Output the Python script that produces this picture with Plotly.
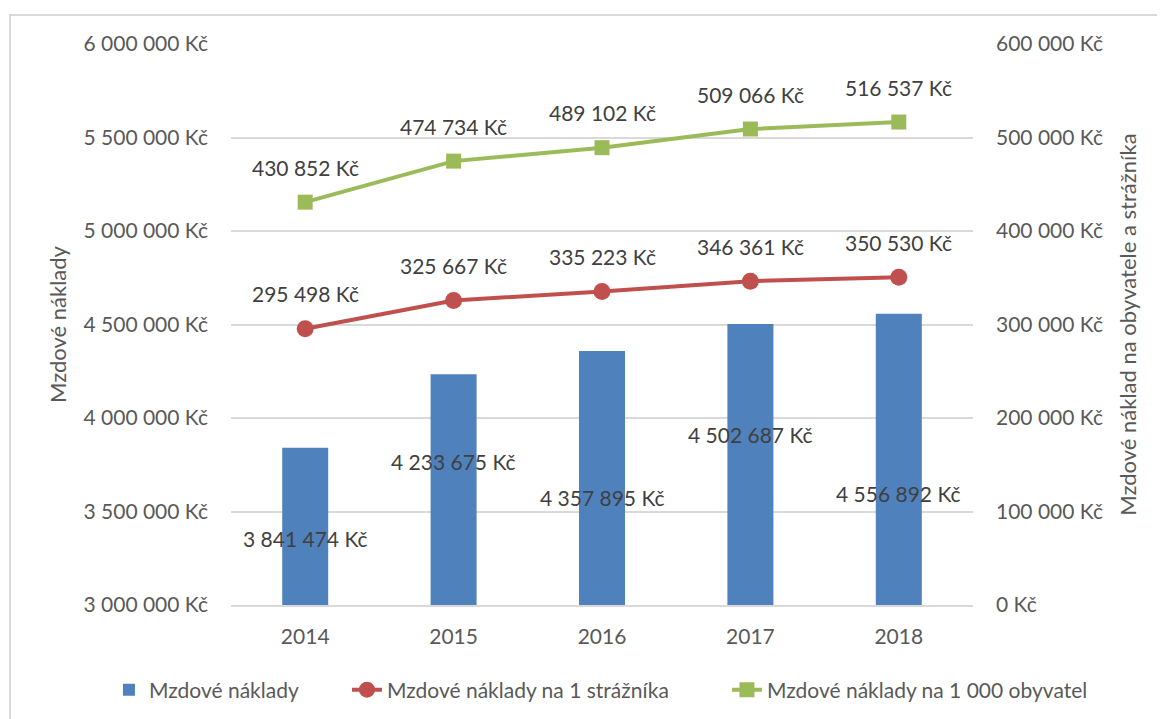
import plotly.graph_objects as go

years = [2014, 2015, 2016, 2017, 2018]
naklady = [3841474, 4233675, 4357895, 4502687, 4556892]
na_straznika = [295498, 325667, 335223, 346361, 350530]
na_1000_obyv = [430852, 474734, 489102, 509066, 516537]

left_ticks = [3000000, 3500000, 4000000, 4500000, 5000000, 5500000, 6000000]
right_ticks = [0, 100000, 200000, 300000, 400000, 500000, 600000]

def kc(v):
    return f"{v:,}".replace(",", " ") + " Kč"

FONT = "Lato"
FS = 21
BLUE = "#4F81BD"
RED = "#C0504D"
GREEN = "#9BBB59"
GRID = "#D9D9D9"
TICK = "#595959"
LABEL = "#404040"

fig = go.Figure()
fig.add_trace(go.Bar(x=years, y=naklady, name="Mzdové náklady",
                     marker=dict(color=BLUE, line=dict(width=0)), width=0.31,
                     yaxis="y", legend="legend"))
fig.add_trace(go.Scatter(x=years, y=na_straznika, name="Mzdové náklady na 1 strážníka",
                         mode="lines+markers", yaxis="y2", legend="legend2",
                         line=dict(color=RED, width=4),
                         marker=dict(symbol="circle", size=17, color=RED)))
fig.add_trace(go.Scatter(x=years, y=na_1000_obyv, name="Mzdové náklady na 1 000 obyvatel",
                         mode="lines+markers", yaxis="y2", legend="legend3",
                         line=dict(color=GREEN, width=4),
                         marker=dict(symbol="square", size=15, color=GREEN)))

annotations = []
bar_shift = [-91, -87, -146, -110, -180]
for yr, v, s in zip(years, naklady, bar_shift):
    annotations.append(dict(x=yr, y=v, xref="x", yref="y", text=kc(v), showarrow=False,
                            yshift=s, font=dict(family=FONT, size=FS, color=LABEL)))
for series in (na_straznika, na_1000_obyv):
    for yr, v in zip(years, series):
        annotations.append(dict(x=yr, y=v, xref="x", yref="y2", text=kc(v), showarrow=False,
                                yshift=35, font=dict(family=FONT, size=FS, color=LABEL)))

def leg(x):
    return dict(orientation="h", x=x, xanchor="left", y=-0.1515, yanchor="middle",
                font=dict(family=FONT, size=FS, color=TICK), bgcolor="rgba(0,0,0,0)")

fig.update_layout(
    width=1165, height=719,
    margin=dict(l=223, r=200, t=36, b=122, autoexpand=False),
    paper_bgcolor="white", plot_bgcolor="white",
    font=dict(family=FONT, size=FS, color=TICK),
    showlegend=True,
    legend=leg(-0.1645), legend2=leg(0.1563), legend3=leg(0.6684),
    xaxis=dict(range=[2013.5, 2018.5], tickvals=years, ticktext=[str(y) for y in years],
               showgrid=False, showline=True, linecolor=GRID, linewidth=2, zeroline=False,
               ticks="", tickfont=dict(size=FS, color=TICK), ticklabelstandoff=12,
               automargin=False),
    yaxis=dict(range=[3000000, 6000000], tickvals=left_ticks, ticktext=[kc(v) for v in left_ticks],
               showgrid=True, gridcolor=GRID, gridwidth=2, zeroline=False, showline=False,
               tickfont=dict(size=FS, color=TICK), ticklabelstandoff=22, automargin=False,
               title=dict(text="Mzdové náklady", font=dict(size=22, color=TICK), standoff=10)),
    yaxis2=dict(range=[0, 600000], tickvals=right_ticks, ticktext=[kc(v) for v in right_ticks],
                overlaying="y", side="right", showgrid=False, zeroline=False, showline=False,
                tickfont=dict(size=FS, color=TICK), ticklabelstandoff=22, automargin=False,
                title=dict(text="Mzdové náklad na obyvatele a strážníka",
                           font=dict(size=22, color=TICK), standoff=18)),
    annotations=annotations,
    shapes=[dict(type="rect", xref="paper", yref="paper", x0=-0.2978, x1=1.27, y0=-0.3, y1=1.0517,
                 line=dict(color=GRID, width=2), fillcolor="rgba(0,0,0,0)", layer="below")],
)

fig.write_html("out.html")
